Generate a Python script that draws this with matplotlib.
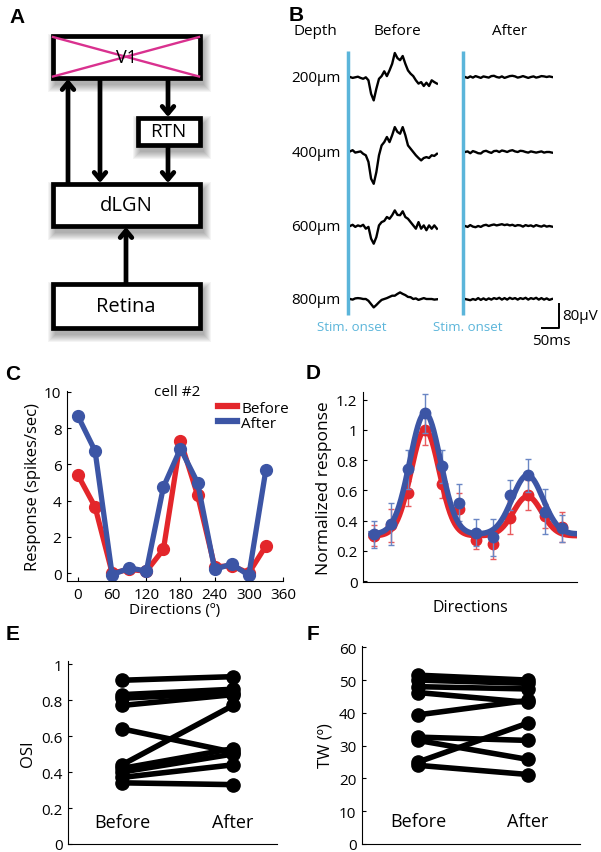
import numpy as np
import matplotlib
matplotlib.use('Agg')
import matplotlib.pyplot as plt
from matplotlib.patches import Rectangle
from matplotlib.ticker import FuncFormatter

W, H = 601, 853
plt.rcParams['font.family'] = ['Open Sans', 'DejaVu Sans']
plt.rcParams['axes.linewidth'] = 0.8

RED = '#e3262b'
BLUE = '#3c55a5'
CYAN = '#5bb5da'

# ---------------- Panel B data (LFP traces, µV) ----------------
depth_labels = ['200µm', '400µm', '600µm', '800µm']
sample_ms = 7.75
lfp_before_200 = [0, -3, -1, 1, -3, -6, -1, -11, -56, -78, -39, -6, 3, 19, 3, 22, 44, 80, 63, 56,
                  70, 44, 22, 11, 3, -11, -22, -17, -30, -19, -30, -11, -17, -22]
lfp_before_400 = [2, 6, -2, 0, 2, -6, -11, -33, -89, -106, -67, -11, 22, 33, 50, 33, 56, 83, 67, 61,
                  83, 56, 22, 11, 0, -11, -20, -28, -20, -17, -20, -11, -13, -6]
lfp_before_600 = [0, 4, -3, 2, -1, 4, -9, -3, -42, -59, -37, 2, 13, 17, 30, 24, 36, 52, 37, 36,
                  49, 30, 24, 13, 2, -9, 13, -9, 2, -14, 2, -9, 2, -9]
lfp_before_800 = [0, -2, 2, 3, 2, 0, 0, -6, -17, -28, -20, -11, -3, 0, 3, 7, 11, 11, 17, 22,
                  17, 13, 7, 6, 0, 2, -3, 0, 3, 0, 0, 0, -2, -1]
lfp_after_200 = [0, -3, 2, -2, 3, 0, -3, 2, 0, -2, 3, 4, 0, -2, 2, -3, 0, 3, 4, 2,
                 -2, 0, 3, 0, -3, 0, 2, -2, 0, 3, 2, 0, 2, 0]
lfp_after_400 = [0, 2, -4, 3, 0, -4, -5, 2, 4, 0, -3, 3, 4, 0, 5, 3, 0, 4, 6, 2,
                 0, 4, 3, 0, -2, 2, 0, -2, 0, 2, -2, 0, 0, -2]
lfp_after_600 = [0, -3, 3, -2, -4, 0, -3, 2, 4, 0, 3, 5, 2, 4, 6, 3, 5, 2, 4, 0,
                 3, 2, -2, 3, 0, 2, -2, 3, 0, -2, 2, -2, 0, -2]
lfp_after_800 = [0, -2, -4, 0, -3, 3, -3, 2, -3, 2, -2, 3, 0, 4, -2, 3, -2, 4, 0, 3,
                 -2, 3, 0, 4, -2, 3, 0, 4, -2, 3, -2, 2, -3, 0]
lfp_before = [lfp_before_200, lfp_before_400, lfp_before_600, lfp_before_800]
lfp_after = [lfp_after_200, lfp_after_400, lfp_after_600, lfp_after_800]

# ---------------- Panel C data ----------------
directions = [0, 30, 60, 90, 120, 150, 180, 210, 240, 270, 300, 330]
cell2_before = [5.4, 3.65, 0.0, 0.2, 0.1, 1.3, 7.3, 4.3, 0.35, 0.4, 0.0, 1.5]
cell2_after = [8.66, 6.74, -0.1, 0.28, 0.11, 4.75, 6.87, 4.99, 0.2, 0.5, -0.13, 5.71]

# ---------------- Panel D data ----------------
pop_before_mean = [0.30, 0.37, 0.58, 1.00, 0.64, 0.48, 0.27, 0.245, 0.42, 0.57, 0.43, 0.36]
pop_before_err = [0.07, 0.11, 0.08, 0.10, 0.09, 0.10, 0.06, 0.10, 0.11, 0.10, 0.08, 0.10]
pop_after_mean = [0.31, 0.38, 0.74, 1.11, 0.76, 0.52, 0.32, 0.29, 0.57, 0.70, 0.46, 0.35]
pop_after_err = [0.09, 0.14, 0.13, 0.13, 0.11, 0.12, 0.09, 0.12, 0.10, 0.11, 0.15, 0.09]
# double-Gaussian fit parameters: baseline, amp1, amp2, pref1, pref2, width
fit_before = [0.30, 0.70, 0.26, 90, 270, 25]
fit_after = [0.31, 0.80, 0.39, 90, 270, 27]

# ---------------- Panel E / F data ----------------
osi_before = [0.91, 0.83, 0.81, 0.77, 0.64, 0.44, 0.42, 0.40, 0.37, 0.34]
osi_after = [0.93, 0.86, 0.84, 0.83, 0.51, 0.77, 0.53, 0.50, 0.44, 0.33]
tw_before = [51.5, 50.0, 48.0, 46.2, 39.4, 32.6, 31.6, 25.0, 24.0]
tw_after = [50.0, 49.0, 47.3, 43.2, 43.8, 31.6, 25.8, 36.9, 21.2]
conditions = ['Before', 'After']

fig = plt.figure(figsize=(W / 100, H / 100), dpi=100)


def ax_px(left, top, right, bottom, **kw):
    return fig.add_axes([left / W, 1 - bottom / H, (right - left) / W, (bottom - top) / H], **kw)


# overlay in pixel coordinates for schematic / labels
ov = ax_px(0, 0, W, H)
ov.set_xlim(0, W)
ov.set_ylim(H, 0)
ov.axis('off')

# ---------------- Panel A schematic ----------------
boxes = [(52.5, 37, 199.5, 78.5), (138, 119, 199.5, 145.5), (52.5, 185, 199.5, 226.5),
         (52.5, 285, 199.5, 328.5)]
for (x0, y0, x1, y1) in boxes:
    for i in range(8):
        g = 8 - i
        ov.add_patch(Rectangle((x0 + 3 - g, y0 + 6 - g), x1 - x0 + 2 * g, y1 - y0 + 2 * g,
                               facecolor='black', edgecolor='none', alpha=0.045, zorder=1))
for (x0, y0, x1, y1) in boxes:
    ov.add_patch(Rectangle((x0, y0), x1 - x0, y1 - y0, facecolor='white', edgecolor='black',
                           lw=3.4, zorder=3))
ov.plot([53, 199], [38, 77.5], color='#d9318f', lw=1.7, zorder=4)
ov.plot([53, 199], [77.5, 38], color='#d9318f', lw=1.7, zorder=4)
ov.text(126, 58, 'V1', ha='center', va='center', fontsize=13, zorder=5)
ov.text(168.5, 132, 'RTN', ha='center', va='center', fontsize=13.5, zorder=5)
ov.text(126, 206, 'dLGN', ha='center', va='center', fontsize=14.5, zorder=5)
ov.text(126, 307, 'Retina', ha='center', va='center', fontsize=14.5, zorder=5)
arrows = [((68, 184), (68, 80)), ((100, 80), (100, 184)), ((168, 80), (168, 118)),
          ((168, 147), (168, 184)), ((126, 284), (126, 228))]
for (s, e) in arrows:
    ov.annotate('', xy=e, xytext=s,
                arrowprops=dict(arrowstyle='->,head_length=0.5,head_width=0.42', lw=3.4,
                                color='black', shrinkA=0, shrinkB=0), zorder=2)

# ---------------- Panel B ----------------
ov.text(315, 31, 'Depth', ha='center', va='center', fontsize=11)
ov.text(397, 31, 'Before', ha='center', va='center', fontsize=11)
ov.text(510, 31, 'After', ha='center', va='center', fontsize=11)
baselines = [78, 153, 227, 300]
for lab, yb in zip(depth_labels, baselines):
    ov.text(341, yb, lab, ha='right', va='center', fontsize=11)
for xs in (348, 463):
    ov.plot([xs, xs], [52, 316], color=CYAN, lw=2.5, solid_capstyle='butt')
ov.text(352, 327, 'Stim. onset', ha='center', va='center', fontsize=9.5, color=CYAN)
ov.text(468, 327, 'Stim. onset', ha='center', va='center', fontsize=9.5, color=CYAN)
# scale bar: 80 µV and 50 ms
uv_per_px = 80 / 24.0
ms_per_px = 50 / 17.0
ov.plot([559, 559, 559 - 50 / ms_per_px], [329 - 80 / uv_per_px, 329, 329], color='black', lw=1.4)
ov.text(562, 316, '80µV', ha='left', va='center', fontsize=11)
ov.text(551, 341, '50ms', ha='center', va='center', fontsize=11)

half_px = 35
for col, (x0, traces) in enumerate([(350, lfp_before), (465, lfp_after)]):
    for yb, tr in zip(baselines, traces):
        t = np.arange(len(tr)) * sample_ms
        tax = ax_px(x0, yb - half_px, x0 + 88, yb + half_px)
        tax.plot(t, tr, color='black', lw=1.7)
        tax.set_xlim(0, 88 * ms_per_px)
        tax.set_ylim(-half_px * uv_per_px, half_px * uv_per_px)
        tax.axis('off')


def style(ax):
    for s in ('top', 'right'):
        ax.spines[s].set_visible(False)
    ax.tick_params(direction='in', length=3, width=0.8, labelsize=11, pad=4)


fmt = FuncFormatter(lambda v, p: '%g' % round(v, 2))

# ---------------- Panel C ----------------
axc = ax_px(67, 392, 283, 582)
style(axc)
axc.plot(directions, cell2_before, '-o', color=RED, lw=3.8, ms=8.5, label='Before')
axc.plot(directions, cell2_after, '-o', color=BLUE, lw=3.8, ms=8.5, label='After')
axc.set_xlim(-19.3, 360)
axc.set_ylim(-0.44, 10.05)
axc.set_xticks(range(0, 361, 60))
axc.set_yticks(range(0, 11, 2))
axc.set_xlabel('Directions (º)', fontsize=11, labelpad=0)
axc.set_ylabel('Response (spikes/sec)', fontsize=12, labelpad=2)
axc.text(174, 10, 'cell #2', ha='center', va='center', fontsize=11)
leg = axc.legend(loc='upper left', bbox_to_anchor=(0.665, 0.99), frameon=False, fontsize=11,
                 handlelength=1.2, handletextpad=0.3, borderpad=0, labelspacing=0.0)
for h in leg.legend_handles:
    h.set_marker('')
    h.set_linewidth(4.5)

# ---------------- Panel D ----------------
axd = ax_px(363, 393, 577, 583)
style(axd)
xx = np.linspace(-5, 355, 400)


def curve(p, x):
    base, a1, a2, m1, m2, w = p
    d1 = (x - m1 + 180) % 360 - 180
    d2 = (x - m2 + 180) % 360 - 180
    return base + a1 * np.exp(-d1 ** 2 / (2 * w ** 2)) + a2 * np.exp(-d2 ** 2 / (2 * w ** 2))


axd.errorbar(directions, pop_before_mean, yerr=pop_before_err, fmt='o', color=RED, ecolor='#e85b5e',
             elinewidth=1, capsize=2, ms=7.5, zorder=3)
axd.plot(xx, curve(fit_before, xx), color=RED, lw=4.0, zorder=4)
axd.errorbar(directions, pop_after_mean, yerr=pop_after_err, fmt='o', color=BLUE, ecolor='#6a86c4',
             elinewidth=1, capsize=2, ms=7.5, zorder=5)
axd.plot(xx, curve(fit_after, xx), color=BLUE, lw=4.0, zorder=6)
axd.set_xlim(-19.3, 357)
axd.set_ylim(-0.005, 1.25)
axd.set_xticks([])
axd.set_yticks([0, 0.2, 0.4, 0.6, 0.8, 1.0, 1.2])
axd.yaxis.set_major_formatter(fmt)
axd.set_xlabel('Directions', fontsize=11.5, labelpad=12)
axd.set_ylabel('Normalized response', fontsize=12.5, labelpad=3)

# ---------------- Panel E ----------------
axe = ax_px(68, 662, 277, 845)
style(axe)
for b, a in zip(osi_before, osi_after):
    axe.plot([1, 2], [b, a], '-o', color='black', lw=4.0, ms=9.5, solid_capstyle='round')
axe.set_xlim(0.514, 2.396)
axe.set_ylim(0, 1.017)
axe.set_xticks([])
axe.set_yticks([0, 0.2, 0.4, 0.6, 0.8, 1.0])
axe.yaxis.set_major_formatter(fmt)
axe.set_ylabel('OSI', fontsize=12, labelpad=4)
for i, c in enumerate(conditions):
    axe.text(i + 1, 0.125, c, ha='center', va='center', fontsize=13)

# ---------------- Panel F ----------------
axf = ax_px(362, 647, 580, 845)
style(axf)
for b, a in zip(tw_before, tw_after):
    axf.plot([1, 2], [b, a], '-o', color='black', lw=4.0, ms=9.5, solid_capstyle='round')
axf.set_xlim(0.491, 2.473)
axf.set_ylim(0, 60.4)
axf.set_xticks([])
axf.set_yticks(range(0, 61, 10))
axf.set_ylabel('TW (º)', fontsize=12, labelpad=4)
for i, c in enumerate(conditions):
    axf.text(i + 1, 7.1, c, ha='center', va='center', fontsize=13)

# panel letters
for lab, (x, y) in {'A': (17, 17), 'B': (296, 15), 'C': (13, 374), 'D': (313, 373),
                    'E': (13, 634), 'F': (313, 634)}.items():
    ov.text(x, y, lab, ha='center', va='center', fontsize=15, fontweight='bold',
            family=['Liberation Sans', 'DejaVu Sans'])

fig.savefig('out.png', dpi=100)
